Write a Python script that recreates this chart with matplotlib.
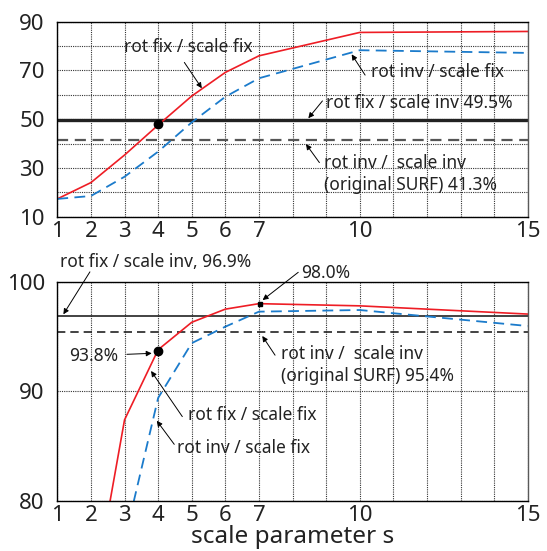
import matplotlib
matplotlib.use("Agg")
import matplotlib.pyplot as plt

plt.rcParams['font.family'] = ['Noto Sans', 'DejaVu Sans']

# === données ===
x_ticks = [1, 2, 3, 4, 5, 6, 7, 10, 15]

# panneau du haut
x_top = [1, 2, 3, 4, 5, 6, 7, 10, 15]
top_rotfix_scalefix = [17.3, 24.0, 35.3, 47.6, 59.5, 69.2, 76.0, 85.6, 86.0]
top_rotinv_scalefix = [17.3, 18.5, 26.4, 36.7, 48.7, 59.2, 66.8, 78.3, 77.2]
top_rotfix_scaleinv = 49.5
top_rotinv_scaleinv = 41.3
top_yticks = [10, 30, 50, 70, 90]

# panneau du bas
x_bot = [2, 3, 4, 5, 6, 7, 10, 15]
bot_rotfix_scalefix = [70.2, 87.4, 93.8, 96.3, 97.5, 98.0, 97.8, 97.05]
bot_rotinv_scalefix = [62.0, 76.4, 89.4, 94.4, 95.9, 97.27, 97.42, 95.96]
bot_rotfix_scaleinv = 96.9
bot_rotinv_scaleinv = 95.4
bot_yticks = [80, 90, 100]

RED = '#ee1d25'
BLUE = '#1b7bcb'
FS_TICK = 16
FS_TXT = 12.5

fig = plt.figure(figsize=(5.47, 5.51), dpi=100)
ax1 = fig.add_axes([0.1048, 0.6067, 0.86, 0.3539])
ax2 = fig.add_axes([0.1048, 0.0907, 0.86, 0.398])


def style(ax, yticks, ygrid):
    ax.set_xlim(1, 15)
    ax.set_xticks(range(1, 16), minor=True)
    ax.set_xticks(x_ticks)
    ax.set_xticklabels([str(v) for v in x_ticks])
    ax.set_yticks(ygrid, minor=True)
    ax.set_yticks(yticks)
    ax.grid(True, which='both', color='0.2', linestyle=(0, (1, 1)), linewidth=0.8)
    ax.tick_params(which='both', length=0, labelsize=FS_TICK, colors='#222222')
    ax.tick_params(axis='y', pad=9)
    ax.tick_params(axis='x', pad=3)
    for s in ax.spines.values():
        s.set_linewidth(1.0)
        s.set_color('black')
    ax.spines['right'].set_color('0.35')
    ax.set_axisbelow(True)


def arrow(ax, tail, tip):
    ax.annotate('', xy=tip, xytext=tail,
                arrowprops=dict(arrowstyle='-|>', color='black', lw=0.7,
                                mutation_scale=8, shrinkA=0, shrinkB=0),
                annotation_clip=False)


# === panneau du haut ===
style(ax1, top_yticks, range(10, 91, 10))
ax1.set_ylim(10, 90)
ax1.axhline(top_rotfix_scaleinv, color='#222222', lw=2.4)
ax1.axhline(top_rotinv_scaleinv, color='#555555', lw=1.6, linestyle=(0, (5, 3)))
ax1.plot(x_top, top_rotfix_scalefix, color=RED, lw=1.2)
ax1.plot(x_top, top_rotinv_scalefix, color=BLUE, lw=1.3, linestyle=(0, (6, 3.5)))
ax1.plot([4], [47.9], 'o', color='black', ms=6)

ax1.text(2.99, 79.7, 'rot fix / scale fix', fontsize=FS_TXT, va='center', color='#222222')
arrow(ax1, (4.78, 73.3), (5.30, 62.7))
ax1.text(10.33, 69.5, 'rot inv / scale fix', fontsize=FS_TXT, va='center', color='#222222')
arrow(ax1, (10.16, 68.1), (9.76, 76.6))
ax1.text(8.99, 56.5, 'rot fix / scale inv 49.5%', fontsize=FS_TXT, va='center', color='#222222')
arrow(ax1, (8.89, 57.5), (8.47, 50.4))
ax1.text(8.95, 31.9, 'rot inv /  scale inv', fontsize=FS_TXT, va='center', color='#222222')
ax1.text(8.95, 23.0, '(original SURF) 41.3%', fontsize=FS_TXT, va='center', color='#222222')
arrow(ax1, (8.80, 32.2), (8.40, 39.8))

# === panneau du bas ===
style(ax2, bot_yticks, bot_yticks)
ax2.set_ylim(80, 100)
ax2.axhline(bot_rotfix_scaleinv, color='#222222', lw=1.2)
ax2.axhline(bot_rotinv_scaleinv, color='#222222', lw=1.2, linestyle=(0, (5, 3)))
ax2.plot(x_bot, bot_rotfix_scalefix, color=RED, lw=1.2)
ax2.plot(x_bot, bot_rotinv_scalefix, color=BLUE, lw=1.3, linestyle=(0, (6, 3.5)))
ax2.plot([4], [93.7], 'o', color='black', ms=6)
ax2.plot([7.03], [98.0], 's', color='black', ms=3)

ax2.text(1.08, 101.8, 'rot fix / scale inv, 96.9%', fontsize=FS_TXT, va='center',
         color='#222222', clip_on=False)
arrow(ax2, (1.97, 100.9), (1.18, 97.03))
ax2.text(8.27, 100.77, '98.0%', fontsize=FS_TXT, va='center', color='#222222', clip_on=False)
arrow(ax2, (8.17, 100.86), (7.11, 98.33))
ax2.text(2.82, 93.22, '93.8%', fontsize=FS_TXT, va='center', ha='right', color='#222222')
arrow(ax2, (3.07, 93.38), (3.81, 93.47))
ax2.text(4.90, 87.84, 'rot fix / scale fix', fontsize=FS_TXT, va='center', color='#222222')
arrow(ax2, (4.72, 87.7), (3.79, 91.86))
ax2.text(4.57, 84.86, 'rot inv / scale fix', fontsize=FS_TXT, va='center', color='#222222')
arrow(ax2, (4.48, 85.17), (3.96, 87.32))
ax2.text(7.66, 93.4, 'rot inv /  scale inv', fontsize=FS_TXT, va='center', color='#222222')
ax2.text(7.66, 91.4, '(original SURF) 95.4%', fontsize=FS_TXT, va='center', color='#222222')
arrow(ax2, (7.48, 93.3), (7.10, 95.05))

ax2.set_xlabel('scale parameter s', fontsize=17.5, labelpad=-1, color='#222222')

fig.savefig('out.png', dpi=100)
